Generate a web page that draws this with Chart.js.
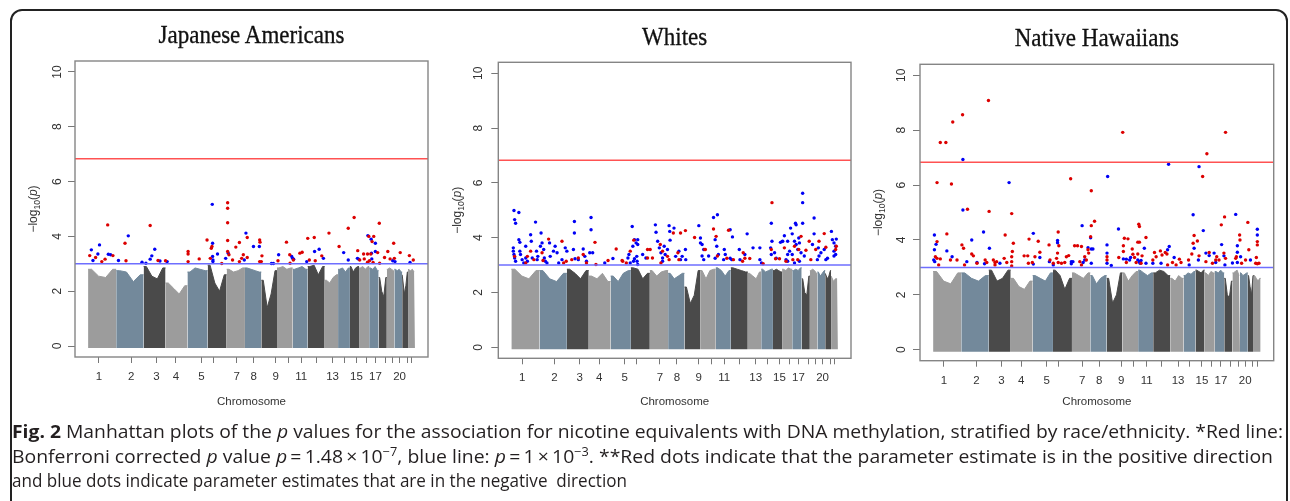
<!DOCTYPE html>
<html><head><meta charset="utf-8">
<script src="https://cdn.jsdelivr.net/npm/chart.js@4"></script>
<style>
html,body{margin:0;padding:0;background:#fff;width:1290px;height:501px;overflow:hidden;}
#frame{position:absolute;left:10px;top:9px;width:1278px;height:560px;border:2px solid #222;border-radius:12px;box-sizing:border-box;}
canvas{position:absolute;top:0;}
.ttl{position:absolute;font-family:"Liberation Serif","Times New Roman",serif;font-size:23px;line-height:1;color:#111;white-space:nowrap;transform:translate(-50%,-50%) scaleY(1.1);-webkit-text-stroke:0.3px #111;}
#cap{position:absolute;left:12px;top:419px;font-family:"Open Sans","Noto Sans","Liberation Sans",sans-serif;font-size:18.5px;line-height:24.5px;color:#231f20;white-space:nowrap;}
#cap .ln{transform-origin:0 0;width:max-content;}
#cap sup{font-size:66%;line-height:0;vertical-align:0.6em;}
</style></head><body>
<div id="frame"></div>
<canvas id="c1" width="440" height="420" style="left:0px"></canvas>
<canvas id="c2" width="430" height="420" style="left:440px"></canvas>
<canvas id="c3" width="420" height="420" style="left:870px"></canvas>
<div class="ttl" style="left:251.5px;top:35px">Japanese Americans</div>
<div class="ttl" style="left:674.7px;top:36.7px">Whites</div>
<div class="ttl" style="left:1096.8px;top:38.3px">Native Hawaiians</div>
<div id="cap">
<div class="ln" data-w="1271"><b>Fig. 2</b> Manhattan plots of the <i>p</i> values for the association for nicotine equivalents with DNA methylation, stratified by race/ethnicity. *Red line:</div>
<div class="ln" data-w="1261">Bonferroni corrected <i>p</i> value <i>p</i>&#8201;=&#8201;1.48&#8201;×&#8201;10<sup>−7</sup>, blue line: <i>p</i>&#8201;=&#8201;1&#8201;×&#8201;10<sup>−3</sup>. **Red dots indicate that the parameter estimate is in the positive direction</div>
<div class="ln" data-w="615">and blue dots indicate parameter estimates that are in the negative&nbsp; direction</div>
</div>
<script>
// ---------- data ----------
const CHR_BOUNDS = [0, 86, 170, 237, 304, 366, 424, 480, 530, 578, 626, 672, 724, 765, 801, 829, 860, 889, 914, 937, 961, 979, 1000];
const CHR_TICKS = [33, 132, 209, 269, 347, 383, 455, 507, 574, 613, 652, 698, 748, 784, 821, 851, 879, 909, 932, 953, 976, 991];
const CHR_TICK_LABELS = ['1','2','3','4','5','','7','8','9','','11','','13','','15','','17','','','20','',''];
const Y_TICKS = [0, 2, 4, 6, 8, 10];
const BONFERRONI = 6.83;   // -log10(1.48e-7)
const SUGGESTIVE = 3;      // -log10(1e-3)

// envelope heights (-log10 p) of the dense non-significant mass, 4 readings per chromosome
const p1Mass = [[2.8,2.55,2.5,2.8],[2.75,2.7,2.35,2.6],[2.9,2.55,2.45,2.85],[2.3,2.1,1.9,2.2],[2.7,2.85,2.8,2.75],[2.95,2.3,2.0,2.6],[2.8,2.7,2.75,2.85],[2.85,2.8,2.75,2.7],[2.4,1.4,1.9,2.75],[2.85,2.9,2.8,2.85],[2.8,2.85,2.9,2.8],[2.9,2.95,2.6,2.9],[2.4,2.3,2.5,2.6],[2.8,2.85,2.7,2.85],[2.9,2.7,2.85,2.9],[2.85,2.9,2.8,2.9],[2.85,2.8,2.9,2.75],[2.5,2.0,1.8,2.5],[2.8,2.85,2.8,2.75],[2.8,2.75,2.8,2.7],[2.6,1.9,2.2,2.7],[2.8,2.75,2.8,2.7]];
const p2Mass = [[2.85,2.6,2.5,2.8],[2.8,2.5,2.4,2.7],[2.85,2.7,2.5,2.8],[2.6,2.5,2.7,2.4],[2.6,2.4,2.7,2.8],[2.9,2.85,2.5,2.7],[2.8,2.6,2.75,2.8],[2.7,2.5,2.6,2.7],[2.2,1.6,1.9,2.8],[2.8,2.5,2.8,2.85],[2.9,2.8,2.6,2.8],[2.9,2.85,2.8,2.75],[2.7,2.6,2.5,2.75],[2.85,2.75,2.8,2.85],[2.8,2.85,2.8,2.75],[2.85,2.8,2.9,2.85],[2.8,2.85,2.8,2.9],[2.5,2.0,1.9,2.6],[2.8,2.85,2.8,2.7],[2.75,2.6,2.7,2.8],[2.7,2.5,2.6,2.8],[2.6,2.4,2.5,2.5]];
const p3Mass = [[2.85,2.5,2.4,2.8],[2.8,2.6,2.5,2.7],[2.9,2.5,2.6,2.9],[2.6,2.3,2.2,2.5],[2.7,2.6,2.5,2.8],[2.9,2.7,2.2,2.6],[2.8,2.7,2.6,2.8],[2.7,2.4,2.6,2.7],[2.6,1.7,2.0,2.8],[2.8,2.5,2.7,2.85],[2.9,2.8,2.7,2.8],[2.8,2.9,2.85,2.7],[2.6,2.5,2.7,2.6],[2.7,2.8,2.75,2.85],[2.9,2.85,2.8,2.9],[2.8,2.7,2.85,2.8],[2.85,2.8,2.9,2.8],[2.6,2.0,1.9,2.5],[2.8,2.85,2.9,2.7],[2.8,2.7,2.75,2.8],[2.7,2.3,2.0,2.7],[2.7,2.6,2.5,2.6]];

// significant CpGs: [genome position (0-1000), -log10 p]
const p1Red = [[5,3.30],[23,3.23],[42,3.08],[52,3.17],[60,4.42],[76,3.30],[113,3.75],[116,3.11],[190,4.40],[214,3.12],[237,3.11],[306,3.45],[306,3.36],[306,3.08],[340,3.18],[364,3.87],[374,3.20],[377,3.57],[379,3.63],[409,3.01],[427,5.23],[427,5.03],[427,4.50],[427,3.85],[427,3.45],[431,3.33],[442,3.14],[452,3.61],[463,3.78],[463,3.08],[470,3.20],[475,3.33],[487,3.96],[487,3.23],[525,3.87],[526,3.79],[532,3.29],[525,3.08],[530,3.08],[581,3.11],[607,3.79],[617,3.33],[628,3.14],[618,3.02],[648,3.39],[655,3.42],[672,3.93],[677,3.14],[692,3.96],[695,3.11],[715,3.29],[737,4.12],[768,3.63],[796,4.30],[814,4.69],[825,3.48],[831,3.14],[843,3.36],[845,3.18],[855,3.36],[859,4.00],[865,3.36],[861,3.11],[855,3.06],[874,4.00],[869,3.81],[872,3.05],[886,3.41],[891,4.48],[892,3.02],[907,3.23],[917,3.45],[924,3.18],[935,3.75],[937,3.20],[955,3.41],[983,3.30],[995,3.14]];
const p1Blue = [[10,3.51],[15,3.12],[30,3.36],[35,3.69],[62,3.35],[69,3.33],[93,3.12],[123,4.02],[165,3.06],[177,3.02],[190,3.17],[195,3.29],[204,3.53],[220,3.10],[242,3.08],[380,5.17],[381,3.75],[381,3.27],[382,3.14],[382,3.08],[396,3.36],[421,3.20],[429,3.39],[478,3.14],[483,4.12],[506,3.63],[524,3.63],[561,3.01],[567,3.01],[583,3.33],[623,3.27],[626,3.20],[629,3.17],[669,3.08],[693,3.45],[707,3.53],[720,3.20],[782,3.41],[796,3.14],[824,3.20],[828,3.17],[856,4.03],[866,3.90],[879,3.75],[867,3.39],[868,3.18],[879,3.45],[932,3.11],[939,3.08],[985,3.05]];

const p2Red = [[10,3.32],[49,3.32],[59,3.51],[69,3.20],[44,3.08],[94,3.45],[114,3.95],[97,3.17],[155,3.87],[160,3.08],[168,3.14],[185,3.20],[205,3.26],[220,3.39],[256,3.83],[230,3.08],[259,3.02],[296,3.17],[321,3.59],[339,3.17],[341,3.14],[364,3.51],[375,3.91],[352,3.08],[417,3.57],[425,3.57],[417,3.26],[432,3.26],[456,3.75],[463,3.51],[478,3.32],[483,3.20],[496,4.17],[458,3.08],[518,4.17],[533,4.26],[510,3.45],[513,3.20],[561,4.01],[592,3.57],[594,3.57],[619,4.32],[627,4.05],[631,3.33],[665,4.27],[680,3.20],[660,3.25],[710,3.45],[715,3.25],[708,3.14],[730,3.24],[771,3.05],[798,5.28],[796,3.57],[809,3.23],[821,3.23],[836,3.63],[841,3.14],[862,3.20],[877,3.20],[867,3.69],[887,4.05],[902,3.54],[880,3.57],[912,3.87],[917,3.20],[942,3.87],[932,3.57],[958,4.15],[963,3.65],[993,3.57],[995,3.69]];
const p2Blue = [[8,4.99],[10,4.66],[13,4.53],[6,3.63],[6,3.51],[8,3.39],[10,3.26],[13,3.14],[23,4.92],[23,3.93],[26,3.83],[26,3.51],[28,3.39],[33,3.20],[38,3.08],[44,3.69],[44,3.26],[49,3.14],[59,4.11],[61,3.87],[64,3.26],[74,4.57],[77,3.51],[79,3.20],[81,3.32],[91,4.17],[89,3.69],[94,3.81],[99,3.57],[101,3.26],[104,3.14],[109,3.08],[117,3.81],[119,3.32],[129,3.51],[134,3.69],[140,3.45],[145,3.08],[155,3.20],[165,3.63],[170,3.51],[193,4.59],[193,4.17],[190,3.57],[195,3.23],[205,3.20],[220,3.59],[225,3.32],[230,3.14],[244,4.74],[244,4.29],[240,3.45],[249,3.45],[286,3.08],[311,3.24],[357,3.26],[360,3.39],[364,3.08],[370,4.41],[372,3.69],[377,3.93],[382,3.81],[384,3.32],[385,3.14],[374,3.14],[387,3.93],[387,3.75],[377,3.23],[387,3.02],[402,3.39],[412,3.26],[441,4.47],[443,4.20],[448,3.87],[453,3.63],[458,3.45],[463,3.26],[463,3.14],[471,3.39],[468,3.69],[478,3.57],[483,4.44],[485,4.23],[486,3.91],[498,4.35],[503,3.32],[513,3.51],[518,3.20],[523,3.32],[533,3.57],[534,3.20],[574,4.44],[579,3.99],[584,3.75],[589,3.57],[579,3.81],[584,3.33],[589,3.20],[604,3.33],[619,4.74],[631,4.84],[624,3.93],[629,3.69],[634,3.39],[624,3.25],[652,3.57],[655,3.39],[650,3.20],[670,4.29],[677,4.03],[670,3.25],[675,3.20],[698,3.57],[700,3.20],[722,4.14],[715,3.39],[740,3.63],[761,3.63],[761,3.20],[766,3.08],[796,4.53],[798,3.87],[794,3.63],[796,3.39],[806,3.45],[811,3.25],[824,3.83],[829,3.86],[831,3.87],[836,4.07],[846,3.87],[846,3.39],[841,3.20],[846,3.14],[852,3.51],[855,4.35],[860,4.14],[867,3.87],[872,4.47],[870,4.53],[872,3.75],[877,3.57],[860,3.39],[867,3.08],[880,3.99],[882,3.81],[887,3.45],[892,5.62],[892,5.28],[892,4.53],[882,3.14],[897,3.33],[927,4.72],[927,4.14],[922,3.75],[940,3.63],[948,3.45],[937,3.20],[942,3.33],[958,3.57],[963,3.20],[968,3.25],[980,4.23],[983,3.93],[988,3.81],[993,3.69],[988,3.51],[993,3.39],[995,3.95],[988,3.33]];

const p3Red = [[12,6.09],[22,7.55],[39,7.55],[60,8.30],[56,6.04],[42,4.22],[12,3.94],[7,3.39],[12,3.33],[22,3.31],[17,3.09],[53,3.27],[73,3.27],[88,3.82],[93,3.70],[96,3.09],[90,8.56],[105,5.12],[118,3.49],[123,3.42],[134,3.15],[164,3.18],[169,9.08],[171,5.04],[159,3.27],[184,3.27],[189,3.18],[194,3.21],[189,3.09],[220,4.18],[217,3.33],[225,3.18],[240,4.96],[245,3.88],[242,3.58],[240,3.39],[240,3.21],[240,3.05],[278,3.42],[289,3.42],[293,4.03],[291,3.15],[303,3.18],[321,3.95],[326,3.55],[311,3.39],[354,3.82],[357,3.27],[382,4.29],[377,3.33],[384,3.79],[380,3.52],[382,3.18],[367,3.15],[420,6.23],[407,3.39],[414,3.43],[402,3.18],[392,3.15],[432,3.79],[441,3.79],[453,3.76],[463,3.39],[468,3.27],[473,3.64],[483,5.79],[493,4.68],[483,4.52],[481,4.12],[448,3.21],[453,3.09],[475,3.52],[579,7.92],[531,3.39],[531,3.27],[567,3.36],[581,3.79],[581,3.58],[584,4.06],[595,4.04],[590,3.18],[610,3.48],[615,3.36],[620,3.18],[608,3.67],[625,3.92],[630,3.92],[628,4.57],[630,4.49],[625,3.49],[638,3.42],[650,4.09],[635,3.15],[671,3.27],[676,3.54],[681,3.39],[694,3.60],[699,3.45],[709,3.54],[714,3.49],[716,3.09],[731,3.18],[742,3.09],[752,3.30],[757,3.18],[780,3.27],[790,3.49],[794,3.88],[797,4.16],[807,3.96],[812,3.42],[823,6.31],[836,7.14],[833,3.21],[843,3.54],[853,3.15],[863,3.27],[866,3.39],[873,3.27],[880,4.55],[890,4.84],[888,3.52],[893,7.92],[893,3.33],[924,3.33],[926,3.39],[936,4.18],[937,4.00],[942,3.15],[954,3.27],[961,4.64],[964,3.64],[985,3.15],[987,3.36],[990,3.82],[990,3.94],[995,3.15],[990,3.13]];
const p3Blue = [[4,4.18],[9,3.84],[4,3.64],[2,3.27],[5,3.21],[42,3.60],[58,3.39],[91,6.93],[91,5.09],[103,3.21],[118,4.00],[134,3.18],[154,4.29],[172,3.70],[157,3.13],[232,6.09],[204,3.15],[306,4.24],[326,3.36],[306,3.12],[355,3.21],[367,3.09],[380,3.98],[380,3.90],[422,3.21],[422,3.13],[455,4.52],[481,4.08],[473,3.72],[483,3.67],[488,3.67],[463,3.27],[458,3.18],[483,3.15],[427,3.21],[531,3.82],[531,3.52],[531,3.15],[544,3.07],[566,4.40],[581,3.31],[590,3.30],[600,3.27],[603,3.36],[625,3.27],[630,3.21],[632,3.15],[635,3.25],[645,3.70],[650,3.15],[671,3.15],[696,3.15],[716,3.64],[721,3.76],[719,6.76],[736,3.36],[782,3.09],[794,4.92],[797,3.70],[810,3.27],[825,4.34],[833,3.52],[843,3.43],[858,3.52],[863,3.18],[881,3.83],[888,3.42],[891,3.09],[914,3.16],[924,4.93],[929,3.79],[929,3.55],[939,3.39],[929,3.18],[969,3.27],[990,4.39],[990,4.18],[812,6.67],[533,6.31]];

// ---------- drawing ----------
const X_MIN = -40, X_MAX = 1040, Y_MIN = -0.4, Y_MAX = 10.4;
const MASS_COLORS = ['#9c9c9c', '#73899b', '#4a4a4a'];
const AXIS_FONT = '"Liberation Sans", Arial, sans-serif';

const boxPlugin = {
  id: 'box',
  afterDraw(chart) {
    const {ctx, chartArea: a} = chart;
    ctx.save();
    ctx.strokeStyle = '#858585';
    ctx.lineWidth = 1.4;
    ctx.strokeRect(a.left, a.top, a.right - a.left, a.bottom - a.top);
    ctx.restore();
  }
};
const yTitlePlugin = {
  id: 'ytitle',
  afterDraw(chart, args, opts) {
    const {ctx, chartArea: a} = chart;
    const cy = (a.top + a.bottom) / 2;
    ctx.save();
    ctx.translate(opts.x, cy);
    ctx.rotate(-Math.PI / 2);
    ctx.fillStyle = '#333';
    ctx.textBaseline = 'alphabetic';
    const f = 'px ' + AXIS_FONT;
    const parts = [['\u2212log', '12' + f, 0], ['10', '8.5' + f, 3], ['(', '12' + f, 0], ['p', 'italic 12' + f, 0], [')', '12' + f, 0]];
    let total = 0;
    parts.forEach(p => { ctx.font = p[1]; p.w = ctx.measureText(p[0]).width; total += p.w; });
    let x = -total / 2;
    parts.forEach(p => { ctx.font = p[1]; ctx.fillText(p[0], x, 4.3 + p[2]); x += p.w; });
    ctx.restore();
  }
};

function buildChart(id, p) {
  const datasets = [
    {type: 'line', data: [{x: X_MIN, y: BONFERRONI}, {x: X_MAX, y: BONFERRONI}], borderColor: '#ff5252', borderWidth: 1.5, pointRadius: 0, order: 0},
    {type: 'line', data: [{x: X_MIN, y: SUGGESTIVE}, {x: X_MAX, y: SUGGESTIVE}], borderColor: '#6e6eff', borderWidth: 1.5, pointRadius: 0, order: 0},
    {type: 'scatter', data: p.red.map(d => ({x: d[0], y: d[1]})), backgroundColor: '#dc0000', pointRadius: 1.7, borderWidth: 0, order: 1},
    {type: 'scatter', data: p.blue.map(d => ({x: d[0], y: d[1]})), backgroundColor: '#0000f5', pointRadius: 1.7, borderWidth: 0, order: 1}
  ];
  p.mass.forEach((h, c) => {
    const x0 = CHR_BOUNDS[c], x1 = CHR_BOUNDS[c + 1], w = (x1 - x0) / h.length;
    const pts = [{x: x0, y: h[0]}];
    h.forEach((v, i) => pts.push({x: x0 + w * (i + 0.5), y: v}));
    pts.push({x: x1, y: h[h.length - 1]});
    const col = MASS_COLORS[c % 3];
    datasets.push({type: 'line', data: pts, fill: {value: -0.07}, backgroundColor: col, borderColor: col, borderWidth: 1, pointRadius: 0, tension: 0, order: 2});
  });
  new Chart(document.getElementById(id), {
    type: 'scatter',
    data: {datasets},
    options: {
      responsive: false, animation: false, devicePixelRatio: 1,
      layout: {padding: {left: 0, right: p.padRight, top: p.padTop, bottom: 0}},
      plugins: {legend: {display: false}, tooltip: {enabled: false}, title: {display: false}, ytitle: {x: p.yTitleX}},
      scales: {
        x: {
          type: 'linear', min: X_MIN, max: X_MAX,
          afterBuildTicks: s => { s.ticks = CHR_TICKS.map(v => ({value: v})); },
          afterFit: s => { s.height = p.xHeight; },
          ticks: {autoSkip: false, maxRotation: 0, minRotation: 0, padding: 7, color: '#333', font: {family: AXIS_FONT, size: 11.5}, callback: (v, i) => CHR_TICK_LABELS[i]},
          grid: {drawOnChartArea: false, drawTicks: true, tickLength: 6, color: '#777', lineWidth: 1},
          border: {display: false},
          title: {display: true, text: 'Chromosome', color: '#333', font: {family: AXIS_FONT, size: 11.5}, padding: {top: 0, bottom: 11.4}}
        },
        y: {
          type: 'linear', min: Y_MIN, max: Y_MAX,
          afterBuildTicks: s => { s.ticks = Y_TICKS.map(v => ({value: v})); },
          afterFit: s => { s.width = p.yWidth; },
          ticks: {minRotation: 90, maxRotation: 90, crossAlign: 'center', padding: p.yPad, color: '#333', font: {family: AXIS_FONT, size: 12}, callback: v => String(v)},
          grid: {drawOnChartArea: false, drawTicks: true, tickLength: 7, color: '#777', lineWidth: 1},
          border: {display: false}
        }
      }
    },
    plugins: [boxPlugin, yTitlePlugin]
  });
}

buildChart('c1', {red: p1Red, blue: p1Blue, mass: p1Mass, padRight: 12, padTop: 61, yWidth: 75, xHeight: 63, yPad: 3.3, yTitleX: 33});
buildChart('c2', {red: p2Red, blue: p2Blue, mass: p2Mass, padRight: 19, padTop: 62.3, yWidth: 58.3, xHeight: 61.7, yPad: 6, yTitleX: 16.7});
buildChart('c3', {red: p3Red, blue: p3Blue, mass: p3Mass, padRight: 16.3, padTop: 64.3, yWidth: 50, xHeight: 59.3, yPad: 4.6, yTitleX: 7.5});

// fit each caption line to the reference line length
document.querySelectorAll('#cap .ln').forEach(el => {
  const w = el.getBoundingClientRect().width;
  el.style.transform = 'scaleX(' + (parseFloat(el.dataset.w) / w) + ')';
});
</script>
</body></html>
